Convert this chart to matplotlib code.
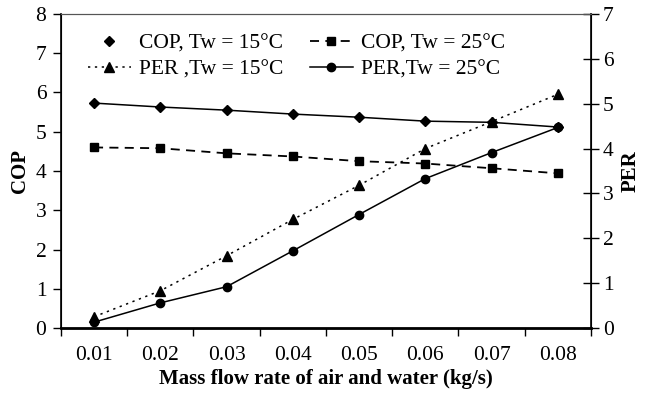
import numpy as np
import matplotlib
matplotlib.use('Agg')
import matplotlib.pyplot as plt
from matplotlib.lines import Line2D

# data
flow = ['0.01', '0.02', '0.03', '0.04', '0.05', '0.06', '0.07', '0.08']
cop_15 = [5.73, 5.63, 5.55, 5.45, 5.37, 5.27, 5.24, 5.12]
cop_25 = [4.60, 4.58, 4.45, 4.37, 4.25, 4.19, 4.07, 3.94]
per_15 = [0.25, 0.83, 1.61, 2.42, 3.18, 4.00, 4.60, 5.21]
per_25 = [0.13, 0.56, 0.92, 1.72, 2.53, 3.33, 3.91, 4.47]

plt.rcParams['font.family'] = ['Liberation Serif', 'DejaVu Serif']
fs = 15.5

fig = plt.figure(figsize=(6.48, 3.94), dpi=100)
ax = fig.add_axes([0.094, 0.1675, 0.818, 0.797])
ax2 = ax.twinx()

x = np.arange(len(flow))
ax.plot(x, cop_15, '-', color='black', lw=1.1, marker='D', ms=5.5)
ax.plot(x, cop_25, color='black', lw=1.3, ls=(0, (5, 3.5)), marker='s', ms=5.5)
ax2.plot(x, per_15, color='black', lw=1.1, ls=(0, (1.5, 3)), marker='^', ms=6.5)
ax2.plot(x, per_25, '-', color='black', lw=1.1, marker='o', ms=6)

ax.set_xlim(-0.5, len(flow) - 0.5)
ax.set_ylim(0, 8)
ax2.set_ylim(0, 7)
ax.set_yticks(range(0, 9))
ax2.set_yticks(range(0, 8))

# category axis: ticks between categories, labels in the middle
ax.set_xticks(np.arange(-0.5, len(flow), 1))
ax.set_xticklabels([])
ax.set_xticks(x, minor=True)
ax.set_xticklabels(flow, minor=True)
ax.tick_params(axis='x', which='major', direction='out', length=6, width=1)
ax.tick_params(axis='x', which='minor', length=0, labelsize=fs, pad=13)
ax.tick_params(axis='y', direction='out', length=5.5, width=1, labelsize=fs, pad=5)
ax2.tick_params(axis='y', direction='inout', length=11, width=1, labelsize=fs, pad=3)

for a in (ax, ax2):
    a.spines['top'].set_color('#555555')
    a.spines['top'].set_linewidth(0.8)
ax.spines['left'].set_linewidth(1.2)
ax.spines['bottom'].set_linewidth(2)
ax2.spines['right'].set_linewidth(1.2)

ax.set_xlabel('Mass flow rate of air and water (kg/s)', fontsize=15, fontweight='bold', labelpad=3)
ax.set_ylabel('COP', fontsize=15, fontweight='bold', labelpad=4)
ax2.set_ylabel('PER', fontsize=15, fontweight='bold', labelpad=5)

handles = [
    Line2D([], [], ls='none', color='black', marker='D', ms=5.5),
    Line2D([], [], color='black', lw=1.1, ls=(0, (1.5, 3)), marker='^', ms=6.5),
    Line2D([], [], color='black', lw=1.3, ls=(0, (5, 3.5)), marker='s', ms=5.5),
    Line2D([], [], color='black', lw=1.1, marker='o', ms=6),
]
labels = ['COP, Tw = 15°C', 'PER ,Tw = 15°C', 'COP, Tw = 25°C', 'PER,Tw = 25°C']
ax2.legend(handles, labels, ncol=2, frameon=False, fontsize=fs,
           loc='upper left', bbox_to_anchor=(0.014, 1.0),
           handlelength=2, handletextpad=0.4, columnspacing=1.2,
           labelspacing=0.3)

plt.savefig('out.png', dpi=100)
